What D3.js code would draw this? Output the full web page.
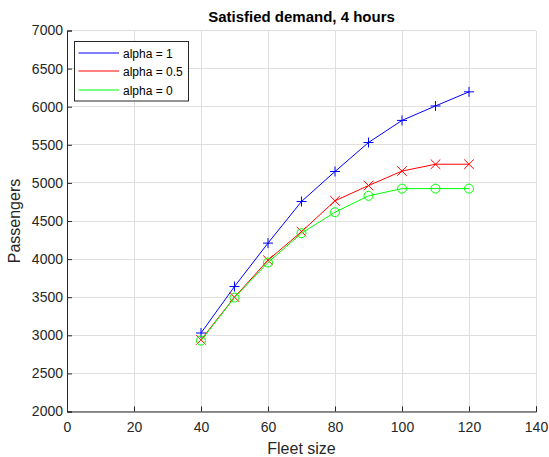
<!DOCTYPE html>
<html>
<head>
<meta charset="utf-8">
<script src="https://cdn.jsdelivr.net/npm/d3@7"></script>
<style>
  body { margin: 0; background: #fff; }
  svg { font-family: "Liberation Sans", Arial, Helvetica, sans-serif; }
</style>
</head>
<body>
<svg id="chart" width="549" height="457"></svg>
<script>
// Fleet sizes and satisfied demand (passengers) for each alpha weighting
const fleetSize = [40, 50, 60, 70, 80, 90, 100, 110, 120];
const alpha1   = [3030, 3640, 4210, 4756, 5150, 5530, 5820, 6010, 6195];
const alpha05  = [2940, 3500, 3985, 4360, 4765, 4965, 5155, 5245, 5245];
const alpha0   = [2930, 3495, 3955, 4340, 4615, 4830, 4925, 4925, 4925];
const xTicks = [0, 20, 40, 60, 80, 100, 120, 140];
const yTicks = [2000, 2500, 3000, 3500, 4000, 4500, 5000, 5500, 6000, 6500, 7000];
const seriesNames = ["alpha = 1", "alpha = 0.5", "alpha = 0"];

const series = [
  { name: seriesNames[0], values: alpha1,  color: "#0000ff", marker: "plus" },
  { name: seriesNames[1], values: alpha05, color: "#ff0000", marker: "cross" },
  { name: seriesNames[2], values: alpha0,  color: "#00ff00", marker: "circle" }
];

const svg = d3.select("#chart");
const margin = { left: 67, right: 13, top: 30.5, bottom: 45.5 };
const W = 549, H = 457;
const x = d3.scaleLinear().domain([0, 140]).range([margin.left, W - margin.right]);
const y = d3.scaleLinear().domain([2000, 7000]).range([H - margin.bottom, margin.top]);
const textColor = "#262626";

// grid
const grid = svg.append("g").attr("shape-rendering", "crispEdges");
grid.selectAll(".gx").data(xTicks).enter().append("line")
  .attr("x1", d => x(d)).attr("x2", d => x(d))
  .attr("y1", y(2000)).attr("y2", y(7000))
  .attr("stroke", "#dfdfdf").attr("stroke-width", 1);
grid.selectAll(".gy").data(yTicks).enter().append("line")
  .attr("x1", x(0)).attr("x2", x(140))
  .attr("y1", d => y(d)).attr("y2", d => y(d))
  .attr("stroke", "#dfdfdf").attr("stroke-width", 1);

// axes (ticks pointing inward)
const xAxis = svg.append("g").attr("transform", `translate(0,${y(2000)})`)
  .call(d3.axisBottom(x).tickValues(xTicks).tickSize(-5).tickPadding(11).tickFormat(d3.format("d")));
const yAxis = svg.append("g").attr("transform", `translate(${x(0)},0)`)
  .call(d3.axisLeft(y).tickValues(yTicks).tickSize(-5).tickPadding(4).tickFormat(d3.format("d")));
[xAxis, yAxis].forEach(a => {
  a.select(".domain").attr("stroke", textColor).attr("stroke-width", 1);
  a.selectAll(".tick line").attr("stroke", textColor);
  a.selectAll(".tick text").attr("fill", textColor).attr("font-size", 14)
    .attr("font-family", "Liberation Sans, Arial, sans-serif");
});

// lines and markers
const line = d3.line().x((d, i) => x(fleetSize[i])).y(d => y(d));
series.forEach(s => {
  const g = svg.append("g");
  g.append("path").datum(s.values).attr("d", line)
    .attr("fill", "none").attr("stroke", s.color).attr("stroke-width", 1);
  const m = g.selectAll(".m").data(s.values).enter().append("g")
    .attr("transform", (d, i) => `translate(${x(fleetSize[i])},${y(d)})`);
  if (s.marker === "plus") {
    m.append("path").attr("d", "M-5,0H5M0,-5V5").attr("stroke", s.color).attr("stroke-width", 1);
  } else if (s.marker === "cross") {
    m.append("path").attr("d", "M-4.8,-4.8L4.8,4.8M-4.8,4.8L4.8,-4.8").attr("stroke", s.color).attr("stroke-width", 1);
  } else {
    m.append("circle").attr("r", 4.5).attr("fill", "none").attr("stroke", s.color).attr("stroke-width", 1);
  }
});

// title and axis labels
svg.append("text").attr("x", (x(0) + x(140)) / 2).attr("y", 22)
  .attr("text-anchor", "middle").attr("font-size", 15).attr("font-weight", "bold")
  .attr("fill", "#000").text("Satisfied demand, 4 hours");
svg.append("text").attr("x", (x(0) + x(140)) / 2).attr("y", 454)
  .attr("text-anchor", "middle").attr("font-size", 16).attr("fill", textColor).text("Fleet size");
svg.append("text").attr("transform", `translate(20,${(y(2000) + y(7000)) / 2}) rotate(-90)`)
  .attr("text-anchor", "middle").attr("font-size", 16).attr("fill", textColor).text("Passengers");

// legend
const lg = svg.append("g").attr("transform", "translate(74.5,41.5)");
lg.append("rect").attr("width", 114).attr("height", 59.5)
  .attr("fill", "#fff").attr("stroke", textColor).attr("stroke-width", 1);
const rowY = [11.5, 29.5, 48.5];
series.forEach((s, i) => {
  const yy = rowY[i];
  lg.append("line").attr("x1", 4).attr("x2", 44.5).attr("y1", yy).attr("y2", yy)
    .attr("stroke", s.color).attr("stroke-width", 1);
  lg.append("text").attr("x", 48.5).attr("y", yy + 4.5).attr("font-size", 12)
    .attr("fill", "#000").text(s.name);
});
</script>
</body>
</html>
